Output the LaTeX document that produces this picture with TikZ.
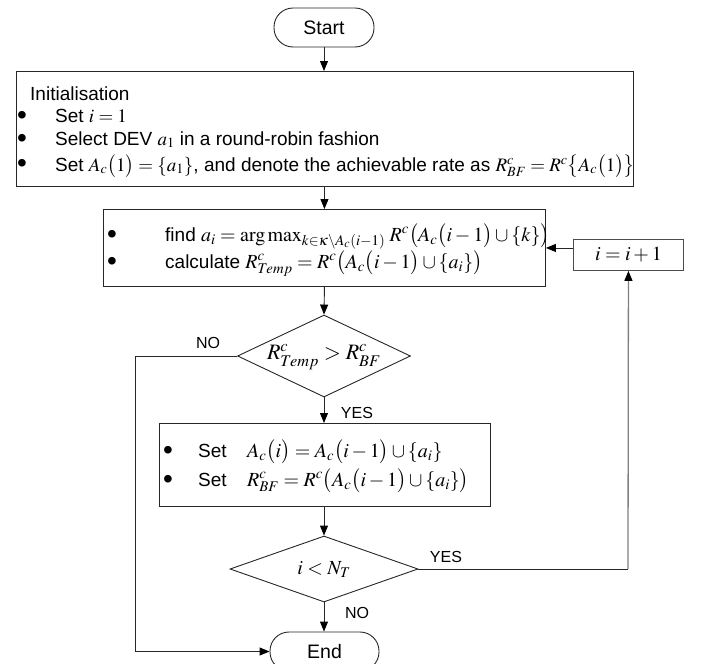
\documentclass[tikz,border=0pt]{standalone}
\usepackage{mathptmx}
\usepackage[no-math]{fontspec}
\setmainfont{Liberation Sans}
\usetikzlibrary{shapes.geometric,arrows.meta}
\newcommand{\mm}[1]{{\fontsize{20pt}{24pt}\selectfont$#1$}}
\tikzset{
  ln/.style={draw=black!85, line width=0.9pt},
  arr/.style={ln, -{Triangle[width=8pt,length=10pt,black]}},
  term/.style={draw=black!85, line width=0.9pt, rounded corners=19pt, minimum width=100pt,
    minimum height=39pt, inner sep=0pt, font=\fontsize{19.5pt}{23pt}\selectfont},
  box/.style={draw=black!85, line width=0.9pt, inner sep=0pt, anchor=north west,
    font=\fontsize{19pt}{23pt}\selectfont},
  dia/.style={draw=black!85, line width=0.9pt, diamond, inner sep=0pt},
  txt/.style={anchor=base west, inner sep=0pt, font=\fontsize{19pt}{23pt}\selectfont},
  bul/.style={anchor=base west, inner sep=0pt, font=\fontsize{28pt}{28pt}\selectfont},
  mth/.style={inner sep=0pt, font=\fontsize{20pt}{24pt}\selectfont},
  big/.style={inner sep=0pt, font=\fontsize{22pt}{26pt}\selectfont},
  lbl/.style={inner sep=0pt, font=\fontsize{16pt}{19pt}\selectfont},
}
\begin{document}
\begin{tikzpicture}[x=1pt,y=-1pt]
\useasboundingbox (0,0) rectangle (707,664);

% shapes
\node[term] (start) at (324,27.5) {Start};
\node[box, minimum width=617pt, minimum height=115pt] (init) at (16,71) {};
\node[box, minimum width=442pt, minimum height=77pt] (calc) at (103,209) {};
\node[box, minimum width=110pt, minimum height=31pt, draw=black!70, font=\fontsize{20pt}{24pt}\selectfont] (inc) at (573,239) {$i=i+1$};
\node[dia, minimum width=173pt, minimum height=82pt] (d1) at (324,356) {};
\node[big] (d1t) at (324,357) {$R^c_{Temp}>R^c_{BF}$};
\node[box, minimum width=331pt, minimum height=83pt] (upd) at (159,423) {};
\node[dia, minimum width=188pt, minimum height=66pt] (d2) at (324,569) {};
\node[mth] (d2t) at (324,570) {$i<N_T$};
\node[term, minimum width=109pt] (end) at (324.5,651.5) {End};

% init text
\node[txt] (t0) at (30,100) {Initialisation};
\node[bul] (b1) at (17,124) {•};
\node[txt] (t1) at (55,122) {Set $i=1$};
\node[bul] (b2) at (17,147) {•};
\node[txt] (t2) at (55,145) {Select DEV $a_1$ in a round-robin fashion};
\node[bul] (b3) at (17,172) {•};
\node[txt] (t3) at (55,171) {Set $A_c\bigl(1\bigr)=\{a_1\}$, and denote the achievable rate as $R^c_{BF}=R^c\bigl\{A_c\bigl(1\bigr)\bigr\}$};

% calc text
\node[bul] (b4) at (107,243) {•};
\node[txt] (t4) at (165,241) {find \mm{a_i=\arg\max\nolimits_{k\in\kappa\setminus A_c(i-1)}\, R^c\bigl(A_c\bigl(i-1\bigr)\cup\{k\}\bigr)}};
\node[bul] (b5) at (107,270) {•};
\node[txt] (t5) at (165,268) {calculate \mm{R^c_{Temp}=R^c\bigl(A_c\bigl(i-1\bigr)\cup\{a_i\}\bigr)}};

% update text
\node[bul] (b6) at (163,459) {•};
\node[txt] (s6) at (198,457) {Set};
\node[txt] (t6) at (247,457) {\mm{A_c\bigl(i\bigr)=A_c\bigl(i-1\bigr)\cup\{a_i\}}};
\node[bul] (b7) at (163,488) {•};
\node[txt] (s7) at (198,486) {Set};
\node[txt] (t7) at (247,486) {\mm{R^c_{BF}=R^c\bigl(A_c\bigl(i-1\bigr)\cup\{a_i\}\bigr)}};

% labels
\node[lbl] (no1) at (208,343) {NO};
\node[lbl] (yes1) at (357,413) {YES};
\node[lbl] (yes2) at (446,557) {YES};
\node[lbl] (no2) at (357,613) {NO};

% connectors
\draw[arr] (start.south) -- (start.south |- init.north);
\draw[arr] (init.south -| calc.north) -- (calc.north);
\draw[arr] (calc.south) -- (d1.north);
\draw[arr] (d1.south) -- (d1.south |- upd.north);
\draw[arr] (upd.south -| d2.north) -- (d2.north);
\draw[arr] (d2.south) -- (d2.south |- end.north);

\coordinate (nl) at (135,356);
\draw[arr] (d1.west) -- (nl) |- (end.west);

\coordinate (yr) at (628,569);
\draw[ln] (d2.east) -- (yr);
\draw[arr, draw=black!50, line width=1.3pt] (yr) -- (inc.south);
\draw[arr] (inc.west |- calc.east) -- (calc.east);
\end{tikzpicture}
\end{document}
